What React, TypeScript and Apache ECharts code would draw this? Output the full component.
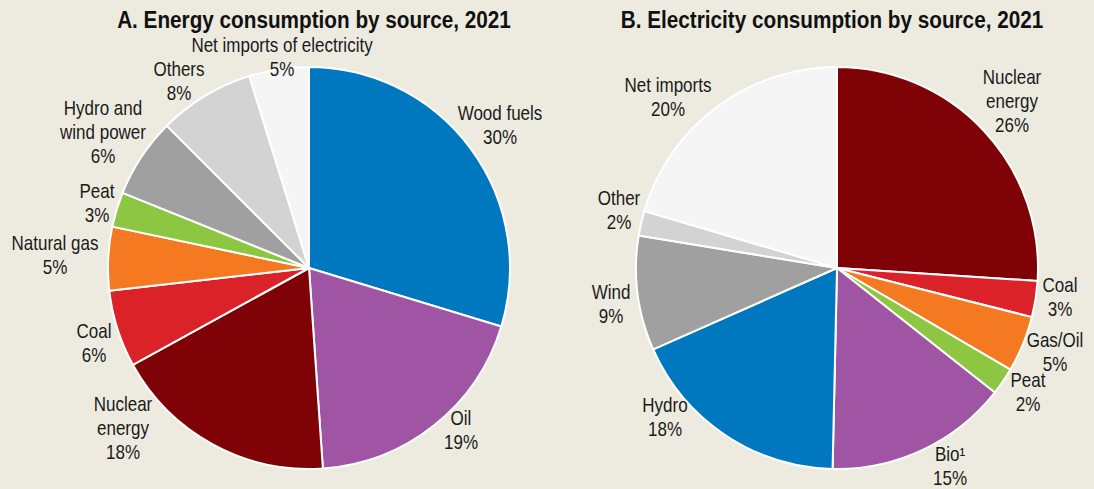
import React, { useEffect, useRef } from "react";
import * as echarts from "echarts";

// ---- Data ----
const energyCategories = [
  "Wood fuels",
  "Oil",
  "Nuclear\nenergy",
  "Coal",
  "Natural gas",
  "Peat",
  "Hydro and\nwind power",
  "Others",
  "Net imports of electricity",
];
const energyValues = [29.7, 19.2, 18.1, 6.2, 5.1, 2.8, 6.4, 7.7, 4.8];

const electricityCategories = [
  "Nuclear\nenergy",
  "Coal",
  "Gas/Oil",
  "Peat",
  "Bio¹",
  "Hydro",
  "Wind",
  "Other",
  "Net imports",
];
const electricityValues = [26.0, 2.9, 4.5, 2.2, 14.7, 18.0, 9.2, 2.0, 20.4];

const titleA = "A. Energy consumption by source, 2021";
const titleB = "B. Electricity consumption by source, 2021";

// ---- Styles / layout ----
const energyColors = ["#0078BF", "#A055A4", "#7F0306", "#DC2229", "#F47920", "#8DC641", "#A0A0A0", "#D3D3D3", "#F5F5F5"];
const electricityColors = ["#7F0306", "#DC2229", "#F47920", "#8DC641", "#A055A4", "#0078BF", "#A0A0A0", "#D3D3D3", "#F5F5F5"];

// label block centres (pixels)
const labelPosA: number[][] = [
  [500, 125], [461, 430], [123, 428], [94, 343], [55, 255], [97, 203], [103, 132], [179, 81], [282, 57],
];
const labelPosB: number[][] = [
  [1012, 101], [1060, 297], [1055, 352], [1028, 392], [950, 466], [665, 417], [611, 304], [619, 210], [668, 97],
];
const titlePos: number[][] = [
  [314, 20],
  [832, 20],
];

const FONT = "'Liberation Sans', Arial, sans-serif";
const NARROW = 0.85;

export default function App() {
  const ref = useRef<HTMLDivElement>(null);
  useEffect(() => {
    if (!ref.current) return;
    const chart = echarts.init(ref.current, undefined, { renderer: "svg" });
    const mkData = (cats: string[], vals: number[], colors: string[]) =>
      cats.map((c, i) => ({ name: c, value: vals[i], itemStyle: { color: colors[i] } }));

    const total = (vals: number[]) => vals.reduce((a, b) => a + b, 0);
    const mkLabels = (cats: string[], vals: number[], pos: number[][]) => {
      const t = total(vals);
      return cats.map((c, i) => ({
        type: "text",
        x: pos[i][0],
        y: pos[i][1],
        scaleX: NARROW,
        z: 100,
        silent: true,
        style: {
          text: `${c}\n${Math.round((vals[i] / t) * 100)}%`,
          fontFamily: FONT,
          fontSize: 20,
          lineHeight: 24,
          fill: "#1a1a1a",
          align: "center",
          verticalAlign: "middle",
        },
      }));
    };
    const mkTitle = (text: string, p: number[]) => ({
      type: "text",
      x: p[0],
      y: p[1],
      scaleX: 0.864,
      z: 100,
      silent: true,
      style: {
        text,
        fontFamily: FONT,
        fontSize: 24,
        fontWeight: "bold",
        fill: "#111111",
        align: "center",
        verticalAlign: "middle",
      },
    });

    chart.setOption({
      animation: false,
      backgroundColor: "#EDEBE0",
      graphic: [
        mkTitle(titleA, titlePos[0]),
        mkTitle(titleB, titlePos[1]),
        ...mkLabels(energyCategories, energyValues, labelPosA),
        ...mkLabels(electricityCategories, electricityValues, labelPosB),
      ],
      series: [
        {
          type: "pie",
          center: [309, 268],
          radius: 201,
          startAngle: 90,
          clockwise: true,
          z: 2,
          data: mkData(energyCategories, energyValues, energyColors),
          itemStyle: { borderColor: "#FFFFFF", borderWidth: 2 },
          label: { show: false },
          labelLine: { show: false },
          emphasis: { disabled: true },
        },
        {
          type: "pie",
          center: [837, 268],
          radius: 201,
          startAngle: 90,
          clockwise: true,
          z: 2,
          data: mkData(electricityCategories, electricityValues, electricityColors),
          itemStyle: { borderColor: "#FFFFFF", borderWidth: 2 },
          label: { show: false },
          labelLine: { show: false },
          emphasis: { disabled: true },
        },
      ],
    });
    return () => chart.dispose();
  }, []);
  return (
    <div
      ref={ref}
      style={{ position: "fixed", left: 0, top: 0, width: 1094, height: 489 }}
    />
  );
}
